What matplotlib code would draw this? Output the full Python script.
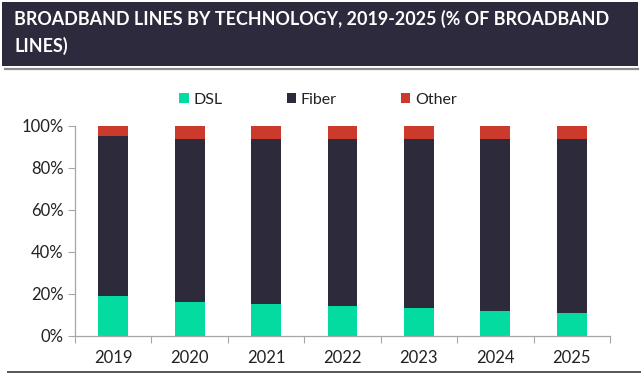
import matplotlib
matplotlib.use("Agg")
import matplotlib.pyplot as plt
from matplotlib.patches import Rectangle, Patch
from matplotlib.lines import Line2D
from matplotlib import font_manager as fm
import numpy as np

years = ["2019", "2020", "2021", "2022", "2023", "2024", "2025"]
dsl = [19, 16, 15, 14, 13, 12, 11]
fiber = [76, 78, 79, 80, 81, 82, 83]
other = [5, 6, 6, 6, 6, 6, 6]
series_names = ["DSL", "Fiber", "Other"]
colors = ["#03DBA0", "#2C2A3B", "#CC3A2B"]
title_lines = ["BROADBAND LINES BY TECHNOLOGY, 2019-2025 (% OF BROADBAND", "LINES)"]

plt.rcParams['font.family'] = ['Lato', 'DejaVu Sans']
names = {f.name for f in fm.fontManager.ttflist}
title_font = "Liberation Sans Narrow" if "Liberation Sans Narrow" in names else "Lato"

W, H = 642, 377
fig = plt.figure(figsize=(W/100, H/100), dpi=100)

# title box
fig.patches.append(Rectangle((2/W, 1-66/H), 636/W, 64/H, transform=fig.transFigure,
                             facecolor="#2D2A3D", edgecolor="none", zorder=0))
fig.lines.append(Line2D([5/W, 638/W], [1-69/H, 1-69/H], transform=fig.transFigure,
                        color="#8C8C8C", lw=1.6))
fig.lines.append(Line2D([8/W, 640/W], [1-371.5/H, 1-371.5/H], transform=fig.transFigure,
                        color="#555555", lw=1.4))
t1 = fig.text(14/W, 1-25/H, title_lines[0], color="white", fontsize=15, fontweight="bold",
              va="baseline", ha="left", family=title_font)
t2 = fig.text(14/W, 1-52/H, title_lines[1], color="white", fontsize=15, fontweight="bold",
              va="baseline", ha="left", family=title_font)
r = fig.canvas.get_renderer()
wpx = t1.get_window_extent(r).width
fs = 15 * 592 / wpx
t1.set_fontsize(fs); t2.set_fontsize(fs)

ax = fig.add_axes([75/W, 1-335.7/H, 535/W, 209.7/H])
x = np.arange(len(years))
bw = 0.39
d = np.array(dsl); f = np.array(fiber); o = np.array(other)
ax.bar(x, d, bw, color=colors[0], label=series_names[0], zorder=2)
ax.bar(x, f, bw, bottom=d, color=colors[1], label=series_names[1], zorder=2)
ax.bar(x, o, bw, bottom=d+f, color=colors[2], label=series_names[2], zorder=2)

ax.set_xlim(-0.5, len(years)-0.5)
ax.set_ylim(0, 100)
ax.set_yticks([0, 20, 40, 60, 80, 100])
ax.set_yticklabels([f"{v}%" for v in [0, 20, 40, 60, 80, 100]])
ax.set_xticks(x)
ax.set_xticklabels(years)
ax.set_xticks(np.arange(-0.5, len(years)), minor=True)
ax.tick_params(axis='x', which='major', length=0, pad=10, labelsize=12, colors="#222222")
ax.tick_params(axis='x', which='minor', length=5, width=0.8, color="#A6A6A6", direction='out')
ax.tick_params(axis='y', length=5, width=0.8, color="#A6A6A6", labelsize=12, pad=3,
               labelcolor="#222222")
for s in ["top", "right"]:
    ax.spines[s].set_visible(False)
for s in ["left", "bottom"]:
    ax.spines[s].set_color("#A6A6A6")
    ax.spines[s].set_linewidth(0.9)

handles = [Patch(facecolor=c, edgecolor="none") for c in colors]
fig.legend(handles, series_names, loc="center", bbox_to_anchor=(318/W, 1-100/H),
           ncol=3, frameon=False, fontsize=11.5, handlelength=0.6, handleheight=0.6,
           handletextpad=0.3, columnspacing=4.0, labelcolor="#222222")

fig.savefig("out.png", dpi=100)
